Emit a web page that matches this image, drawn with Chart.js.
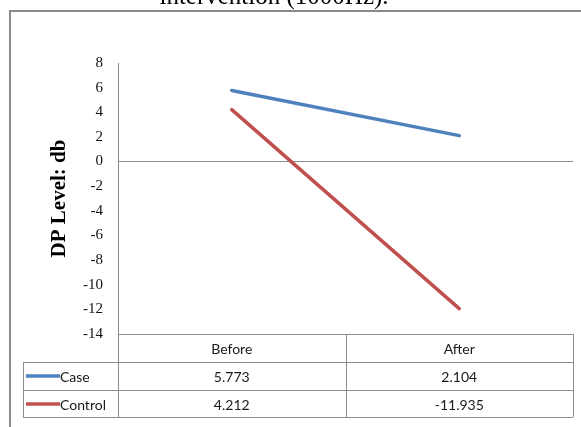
<!DOCTYPE html>
<html>
<head>
<meta charset="utf-8">
<script src="https://cdn.jsdelivr.net/npm/chart.js@4.4.1/dist/chart.umd.min.js"></script>
<style>
  html, body { margin: 0; padding: 0; background: #fff; }
  #wrap { width: 581px; height: 427px; position: relative; }
</style>
</head>
<body>
<div id="wrap"><canvas id="chart"></canvas></div>
<script>
const categories = ["Before", "After"];
const caseValues = [5.773, 2.104];
const controlValues = [4.212, -11.935];
const caseLabels = ["5.773", "2.104"];
const controlLabels = ["4.212", "-11.935"];
const seriesNames = ["Case", "Control"];
const yMin = -14;
const yMax = 8;
const yStep = 2;

const lineGray = "#8c8c8c";
const tableFont = "14px Lato";

// caption, outer frame and the data table under the plot
const frameAndTable = {
  id: "frameAndTable",
  afterDraw(chart) {
    const ctx = chart.ctx;
    const area = chart.chartArea;
    const x = chart.scales.x;
    ctx.save();

    // cut-off caption above the frame
    ctx.fillStyle = "#000";
    ctx.font = "25px 'Liberation Serif'";
    ctx.textAlign = "center";
    ctx.textBaseline = "alphabetic";
    ctx.fillText("intervention (1000Hz).", 274, 4);

    // outer frame (runs off the right and bottom)
    ctx.strokeStyle = "#8a8a8a";
    ctx.lineWidth = 2;
    ctx.beginPath();
    ctx.moveTo(10, 440);
    ctx.lineTo(10, 11);
    ctx.lineTo(600, 11);
    ctx.stroke();

    // table
    const rowH = 28;
    const top = area.bottom;
    const legendLeft = 23;
    const mid = (x.getPixelForValue(0) + x.getPixelForValue(1)) / 2;
    const bottom = top + rowH * 3 - 1;
    ctx.strokeStyle = lineGray;
    ctx.lineWidth = 1;
    ctx.beginPath();
    ctx.moveTo(area.left, top + 0.5);
    ctx.lineTo(area.right, top + 0.5);
    for (let r = 1; r <= 3; r++) {
      const yy = Math.round(top + rowH * r - (r === 3 ? 1 : 0)) + 0.5;
      ctx.moveTo(legendLeft, yy);
      ctx.lineTo(area.right, yy);
    }
    ctx.moveTo(Math.round(area.left) + 0.5, area.top);
    ctx.lineTo(Math.round(area.left) + 0.5, bottom);
    ctx.moveTo(Math.round(mid) + 0.5, top);
    ctx.lineTo(Math.round(mid) + 0.5, bottom);
    ctx.moveTo(Math.round(area.right) + 0.5, top);
    ctx.lineTo(Math.round(area.right) + 0.5, bottom);
    ctx.moveTo(legendLeft + 0.5, top + rowH);
    ctx.lineTo(legendLeft + 0.5, bottom);
    ctx.stroke();

    ctx.font = tableFont;
    ctx.fillStyle = "#1a1a1a";
    ctx.textBaseline = "middle";
    ctx.textAlign = "center";
    categories.forEach((c, i) => {
      ctx.fillText(c, x.getPixelForValue(i), top + rowH / 2 + 1);
    });
    const rows = [caseLabels, controlLabels];
    chart.data.datasets.forEach((ds, r) => {
      const cy = top + rowH * (r + 1) + rowH / 2;
      ctx.strokeStyle = ds.borderColor;
      ctx.lineWidth = 3.5;
      ctx.beginPath();
      ctx.moveTo(26, cy);
      ctx.lineTo(60, cy);
      ctx.stroke();
      ctx.textAlign = "left";
      ctx.fillText(seriesNames[r], 60, cy + 1);
      ctx.textAlign = "center";
      rows[r].forEach((t, i) => {
        ctx.fillText(t, x.getPixelForValue(i), cy + 1);
      });
    });
    ctx.restore();
  }
};

new Chart(document.getElementById("chart"), {
  type: "line",
  data: {
    labels: categories,
    datasets: [
      {
        label: seriesNames[0],
        data: caseValues,
        borderColor: "#4f81bd",
        borderWidth: 3.5,
        borderCapStyle: "round",
        pointRadius: 0,
        tension: 0,
      },
      {
        label: seriesNames[1],
        data: controlValues,
        borderColor: "#c0504d",
        borderWidth: 3.5,
        borderCapStyle: "round",
        pointRadius: 0,
        tension: 0,
      },
    ],
  },
  options: {
    responsive: true,
    maintainAspectRatio: false,
    animation: false,
    layout: {
      padding: { top: 63, right: 8, bottom: 93, left: 0 },
    },
    plugins: {
      legend: { display: false },
      tooltip: { enabled: false },
    },
    scales: {
      x: {
        display: false,
        offset: true,
      },
      y: {
        min: yMin,
        max: yMax,
        afterFit(scale) {
          scale.width = 118;
        },
        ticks: {
          stepSize: yStep,
          padding: 15,
          color: "#111",
          font: { family: "'Liberation Serif'", size: 15 },
        },
        grid: {
          drawTicks: false,
          color: (c) => (c.tick && c.tick.value === 0 ? lineGray : "rgba(0,0,0,0)"),
        },
        border: { display: false },
        title: {
          display: true,
          text: "DP Level: db",
          color: "#000",
          font: { family: "'Liberation Serif'", size: 21, weight: "bold" },
          padding: { top: 47, bottom: 0 },
        },
      },
    },
  },
  plugins: [frameAndTable],
});
</script>
</body>
</html>
